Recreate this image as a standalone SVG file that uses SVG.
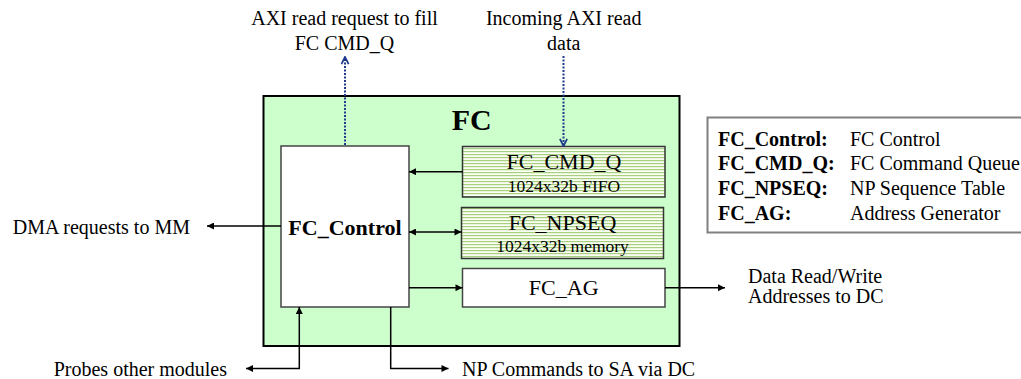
<svg xmlns="http://www.w3.org/2000/svg" width="1021" height="379" viewBox="0 0 1021 379" font-family="'Liberation Serif', Tinos, 'Times New Roman', 'DejaVu Serif', serif">
<style>
text{font-family:'Liberation Serif', Tinos, 'Times New Roman', 'DejaVu Serif', serif;fill:#000}
.lbl{font-size:20px}
.b{font-weight:bold}
.box{fill:#fff;stroke:#444;stroke-width:1.5}
.mem{fill:url(#stripes);stroke:#333;stroke-width:1.5}
.wire{fill:none;stroke:#000;stroke-width:1.5}
.dot{fill:none;stroke:#1f3a8a;stroke-width:2;stroke-dasharray:2 1.5}
</style>
<defs>
<pattern id="stripes" width="6" height="3" patternUnits="userSpaceOnUse">
<rect width="6" height="3" fill="#fbfff5"/>
<rect y="1" width="6" height="1.2" fill="#a7cf7e"/>
</pattern>
<marker id="ah" viewBox="0 0 10 10" refX="10" refY="5" markerWidth="9" markerHeight="7" markerUnits="userSpaceOnUse" orient="auto-start-reverse">
<path d="M0,0 L10,5 L0,10 z" fill="#000"/>
</marker>
<marker id="ch" viewBox="0 0 10 10" refX="9" refY="5" markerWidth="9" markerHeight="9" markerUnits="userSpaceOnUse" orient="auto">
<path d="M1,1 L9,5 L1,9" fill="none" stroke="#1f3a8a" stroke-width="2"/>
</marker>
</defs>

<g id="fc">
<rect x="263.5" y="96" width="416" height="250" fill="#ccffcc" stroke="#000" stroke-width="2"/>
<text x="471.7" y="130" font-size="30" class="b" text-anchor="middle">FC</text>
</g>

<g id="fc_control">
<rect class="box" x="281" y="146" width="128" height="161"/>
<text x="345" y="235" font-size="22" class="b" text-anchor="middle">FC_Control</text>
</g>

<g id="fc_cmd_q">
<rect class="mem" x="462.5" y="146.5" width="202.5" height="50.5"/>
<text x="564" y="169" font-size="22" text-anchor="middle">FC_CMD_Q</text>
<text x="564" y="192" font-size="17.5" text-anchor="middle">1024x32b FIFO</text>
</g>

<g id="fc_npseq">
<rect class="mem" x="461.5" y="207.5" width="202" height="51"/>
<text x="562.5" y="230" font-size="22" text-anchor="middle">FC_NPSEQ</text>
<text x="562.5" y="252" font-size="17.5" text-anchor="middle">1024x32b memory</text>
</g>

<g id="fc_ag">
<rect class="box" x="462.5" y="268.5" width="202.5" height="38.5"/>
<text x="563.7" y="295" font-size="22" text-anchor="middle">FC_AG</text>
</g>

<g id="legend">
<rect x="707.5" y="117.5" width="320" height="115" fill="#fff" stroke="#808080" stroke-width="2"/>
<text class="lbl b" x="718" y="146">FC_Control:</text>
<text class="lbl" x="850" y="146">FC Control</text>
<text class="lbl b" x="718" y="170">FC_CMD_Q:</text>
<text class="lbl" x="850" y="170">FC Command Queue</text>
<text class="lbl b" x="718" y="195">FC_NPSEQ:</text>
<text class="lbl" x="850" y="195">NP Sequence Table</text>
<text class="lbl b" x="718" y="220">FC_AG:</text>
<text class="lbl" x="850" y="220">Address Generator</text>
</g>

<g id="labels">
<text class="lbl" x="344.5" y="25" text-anchor="middle">AXI read request to fill</text>
<text class="lbl" x="344.5" y="50" text-anchor="middle">FC CMD_Q</text>
<text class="lbl" x="563.7" y="25" text-anchor="middle">Incoming AXI read</text>
<text class="lbl" x="563.7" y="50" text-anchor="middle">data</text>
<text class="lbl" x="190" y="234" text-anchor="end">DMA requests to MM</text>
<text class="lbl" x="748" y="283">Data Read/Write</text>
<text class="lbl" x="748" y="303">Addresses to DC</text>
<text class="lbl" x="227" y="376" text-anchor="end">Probes other modules</text>
<text class="lbl" x="462" y="376">NP Commands to SA via DC</text>
</g>

<g id="connectors">
<path class="dot" d="M345,145 V57" marker-end="url(#ch)"/>
<path class="dot" d="M563.5,56 V146" marker-end="url(#ch)"/>
<path class="wire" d="M462.5,171.7 H409" marker-end="url(#ah)"/>
<path class="wire" d="M409,232 H461.5" marker-start="url(#ah)" marker-end="url(#ah)"/>
<path class="wire" d="M409,287.7 H462.5" marker-end="url(#ah)"/>
<path class="wire" d="M665,287.7 H725" marker-end="url(#ah)"/>
<path class="wire" d="M281,226 H207" marker-end="url(#ah)"/>
<path class="wire" d="M246,368.5 H299.3 V307" marker-start="url(#ah)" marker-end="url(#ah)"/>
<path class="wire" d="M390.7,307 V368.5 H448.5" marker-end="url(#ah)"/>
</g>
</svg>
